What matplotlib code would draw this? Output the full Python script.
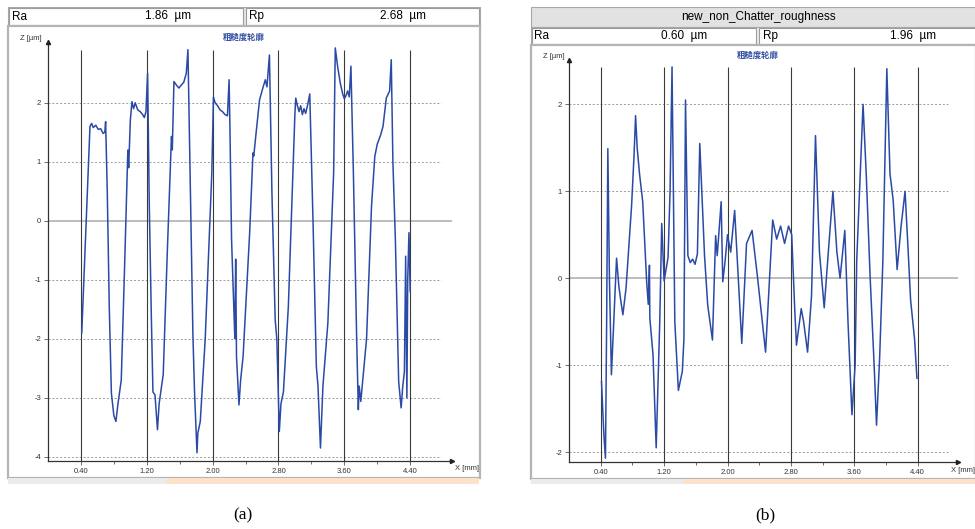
import matplotlib
matplotlib.use("Agg")
import matplotlib.pyplot as plt
from matplotlib.patches import Rectangle

# ---------------- data ----------------
xa = [0.41, 0.45, 0.49, 0.51, 0.53, 0.55, 0.58, 0.61, 0.64, 0.67, 0.69, 0.70, 0.72, 0.745, 0.77, 0.80, 0.825,
      0.85, 0.89, 0.93, 0.97, 0.98, 1.00, 1.02, 1.04, 1.06, 1.09, 1.12, 1.15, 1.17, 1.19, 1.21, 1.23, 1.255,
      1.275, 1.30, 1.33, 1.35, 1.40, 1.45, 1.50, 1.51, 1.53, 1.56, 1.59, 1.62, 1.65, 1.68, 1.70, 1.73, 1.76,
      1.78, 1.81, 1.82, 1.85, 1.91, 1.99, 2.01, 2.03, 2.06, 2.09, 2.12, 2.15, 2.18, 2.20, 2.21, 2.23, 2.27,
      2.28, 2.29, 2.32, 2.34, 2.37, 2.45, 2.49, 2.50, 2.52, 2.57, 2.61, 2.64, 2.66, 2.69, 2.72, 2.76, 2.78,
      2.81, 2.83, 2.86, 2.92, 3.00, 3.01, 3.03, 3.05, 3.07, 3.09, 3.11, 3.13, 3.16, 3.18, 3.22, 3.26, 3.28,
      3.31, 3.34, 3.40, 3.47, 3.49, 3.52, 3.55, 3.58, 3.60, 3.62, 3.64, 3.66, 3.68, 3.71, 3.75, 3.77, 3.78,
      3.80, 3.87, 3.93, 3.97, 4.00, 4.04, 4.07, 4.11, 4.15, 4.17, 4.19, 4.22, 4.26, 4.29, 4.31, 4.33, 4.345,
      4.36, 4.37, 4.385, 4.40]
za = [-1.90, -0.5, 0.9, 1.60, 1.65, 1.58, 1.62, 1.55, 1.56, 1.48, 1.50, 1.68, 0.5, -1.5, -2.92, -3.30, -3.40,
      -3.1, -2.7, -0.8, 1.20, 0.9, 1.7, 2.02, 1.90, 2.0, 1.88, 1.85, 1.80, 1.75, 1.85, 2.50, 0.3, -1.6,
      -2.9, -2.95, -3.54, -3.1, -2.6, -0.5, 1.43, 1.2, 2.36, 2.30, 2.25, 2.30, 2.35, 2.50, 2.90, 0.5, -1.9,
      -2.9, -3.93, -3.6, -3.4, -2.0, 0.81, 2.10, 2.0, 1.95, 1.88, 1.85, 1.80, 1.78, 2.39, 1.6, -0.32, -2.0,
      -0.65, -2.3, -3.12, -2.7, -2.3, -0.2, 1.15, 1.1, 1.38, 2.05, 2.25, 2.39, 2.27, 2.81, 0.5, -1.68, -2.0,
      -3.57, -3.1, -2.9, -1.45, 1.83, 2.08, 1.95, 1.85, 1.95, 1.80, 1.90, 1.82, 2.0, 2.15, -0.03, -2.47, -2.8,
      -3.85, -2.8, -1.73, 0.81, 2.93, 2.6, 2.34, 2.15, 2.07, 2.12, 2.2, 2.1, 2.62, 0.81, -2.0, -3.2, -2.8,
      -3.06, -2.0, 0.24, 1.09, 1.30, 1.45, 1.6, 2.08, 2.2, 2.73, 1.0, -0.32, -2.72, -3.17, -2.8, -2.55, -0.6,
      -3.0, -1.0, -0.2, -1.2]

xb = [0.41, 0.44, 0.46, 0.475, 0.49, 0.51, 0.535, 0.56, 0.60, 0.63, 0.66, 0.68, 0.72, 0.79, 0.82, 0.84, 0.86,
      0.89, 0.93, 0.98, 1.00, 1.015, 1.02, 1.06, 1.10, 1.145, 1.17, 1.20, 1.25, 1.275, 1.30, 1.335, 1.38,
      1.43, 1.45, 1.47, 1.50, 1.53, 1.56, 1.59, 1.62, 1.65, 1.71, 1.75, 1.81, 1.85, 1.87, 1.92, 1.94, 1.97,
      2.00, 2.04, 2.09, 2.13, 2.18, 2.24, 2.31, 2.38, 2.48, 2.57, 2.62, 2.67, 2.72, 2.77, 2.81, 2.85, 2.87,
      2.93, 2.96, 3.01, 3.06, 3.11, 3.16, 3.22, 3.28, 3.33, 3.38, 3.42, 3.48, 3.52, 3.57, 3.61, 3.63, 3.67,
      3.71, 3.75, 3.80, 3.85, 3.88, 3.92, 3.96, 4.01, 4.05, 4.09, 4.14, 4.19, 4.24, 4.28, 4.31, 4.36, 4.39]
zb = [-1.19, -1.8, -2.07, -0.5, 1.49, 0.0, -1.11, -0.6, 0.23, -0.1, -0.3, -0.42, -0.11, 0.84, 1.4, 1.87, 1.5,
      1.2, 0.88, -0.04, -0.3, 0.15, -0.46, -0.88, -1.95, -0.5, 0.63, -0.03, 0.24, 1.0, 2.43, -0.5, -1.29,
      -1.07, -0.7, 2.05, 0.26, 0.18, 0.22, 0.16, 0.28, 1.55, 0.26, -0.31, -0.71, 0.49, 0.26, 0.88, -0.04, 0.2,
      0.5, 0.3, 0.78, 0.1, -0.75, 0.4, 0.55, 0.0, -0.85, 0.67, 0.45, 0.6, 0.4, 0.6, 0.5, -0.4, -0.77,
      -0.35, -0.5, -0.85, -0.2, 1.64, 0.3, -0.34, 0.4, 1.0, 0.3, 0.0, 0.55, -0.5, -1.57, -1.0, 0.2, 1.1,
      2.0, 1.2, 0.0, -1.0, -1.69, -0.9, 0.2, 2.41, 1.2, 0.9, 0.1, 0.6, 1.0, 0.3, -0.25, -0.7, -1.15]

xticks = [0.40, 1.20, 2.00, 2.80, 3.60, 4.40]
xticklabels = ["0.40", "1.20", "2.00", "2.80", "3.60", "4.40"]
xminor = [0.80, 1.60, 2.40, 3.20, 4.00]
yticks_a = [2, 1, 0, -1, -2, -3, -4]
yticks_b = [2, 1, 0, -1, -2]
ra_a, rp_a = "1.86", "2.68"
ra_b, rp_b = "0.60", "1.96"
title_b = "new_non_Chatter_roughness"
profile_title = "粗糙度轮廓"

# ---------------- figure ----------------
W, H = 975, 529
fig = plt.figure(figsize=(W / 100, H / 100), dpi=100)
fig.patch.set_facecolor("white")
SANS = ["Liberation Sans", "DejaVu Sans"]


def R(x0, y0, x1, y1, fc="white", ec="none", lw=0.8):
    fig.patches.append(Rectangle((x0 / W, 1 - y1 / H), (x1 - x0) / W, (y1 - y0) / H,
                                 transform=fig.transFigure, facecolor=fc, edgecolor=ec,
                                 linewidth=lw, zorder=-10))


def T(x, y, s, **kw):
    kw.setdefault("family", SANS)
    kw.setdefault("va", "center")
    fig.text(x / W, 1 - y / H, s, **kw)


# panel (a) frame
R(8, 7, 480, 26, fc="#e6e6e6", ec="#a8a8a8")
R(9, 8, 243, 25, fc="white", ec="#9c9c9c")
R(246, 8, 479, 25, fc="white", ec="#9c9c9c")
R(8, 26, 480, 478, fc="white", ec="#b4b4b4", lw=1.6)
R(8, 478, 166, 484, fc="#ebebeb")
R(166, 478, 479, 484, fc="#fbe2c9")
T(12, 16.5, "Ra", fontsize=8.5)
T(145, 16.5, ra_a + "  µm", fontsize=8.5)
T(249, 16.5, "Rp", fontsize=8.5)
T(380, 16.5, rp_a + "  µm", fontsize=8.5)

# panel (b) frame
R(531, 7, 976, 27, fc="#e2e2e2", ec="#a8a8a8")
R(531, 27, 976, 45, fc="#ececec", ec="#a8a8a8")
R(532, 28, 756, 44, fc="white", ec="#9c9c9c")
R(759, 28, 976, 44, fc="white", ec="#9c9c9c")
R(531, 45, 976, 479, fc="white", ec="#b4b4b4", lw=1.6)
R(531, 479, 683, 484, fc="#ebebeb")
R(683, 479, 975, 484, fc="#fbe2c9")
T(758, 17, title_b, fontsize=8.5, ha="center")
T(534, 36, "Ra", fontsize=8.5)
T(661, 36, ra_b + "  µm", fontsize=8.5)
T(763, 36, "Rp", fontsize=8.5)
T(890, 36, rp_b + "  µm", fontsize=8.5)

# captions
T(243, 515, "(a)", fontsize=12.5, ha="center", family=["Liberation Serif", "DejaVu Serif"])
T(765, 515, "(b)", fontsize=12.5, ha="center", family=["Liberation Serif", "DejaVu Serif"])


def make_axes(px0, px1, py_top, py_bot, xlim, ylim, x, z, yticks, vtop, title_xy, zlab_xy, xlab_xy):
    ax = fig.add_axes([px0 / W, 1 - py_bot / H, (px1 - px0) / W, (py_bot - py_top) / H])
    ax.set_facecolor("none")
    ax.set_xlim(*xlim)
    ax.set_ylim(*ylim)
    for s in ("top", "right"):
        ax.spines[s].set_visible(False)
    for s in ("left", "bottom"):
        ax.spines[s].set_color("#333333")
        ax.spines[s].set_linewidth(0.9)
    gx = 4.78
    for yv in yticks:
        if yv == 0:
            ax.plot([0, xlim[1]], [0, 0], color="#b8b8b8", lw=1.3, zorder=1)
        else:
            ax.plot([0, gx], [yv, yv], color="#9a9a9a", lw=0.7, ls=(0, (2, 2)), zorder=1)
    ax.vlines(xticks, ylim[0], vtop, color="#3a3a3a", lw=0.8, zorder=2)
    ax.plot(x, z, color="#2a4aa6", lw=1.1, zorder=3)
    ax.set_xticks(xticks)
    ax.set_xticklabels(xticklabels)
    ax.set_xticks(xminor, minor=True)
    ax.set_yticks(yticks)
    ax.set_yticklabels([str(v) for v in yticks])
    ax.tick_params(axis="both", which="major", length=3, width=0.6, color="#555555",
                   labelsize=5.5, labelcolor="#333333", pad=2)
    ax.tick_params(axis="x", which="minor", length=2.5, width=0.6, color="#555555")
    for lab in ax.get_xticklabels() + ax.get_yticklabels():
        lab.set_family(SANS)
    ax.plot([0], [ylim[1]], marker="^", ms=3, color="#222222", clip_on=False, zorder=5)
    ax.plot([xlim[1]], [ylim[0]], marker=">", ms=3, color="#222222", clip_on=False, zorder=5)
    T(*title_xy, profile_title, fontsize=6, ha="center", color="#2c4aa0",
      family=["Noto Sans CJK SC", "DejaVu Sans"], weight="bold")
    T(*zlab_xy, "Z [µm]", fontsize=5.5, ha="left", color="#333333")
    T(*xlab_xy, "X [mm]", fontsize=5.5, ha="left", color="#333333")
    return ax


make_axes(48, 452, 42, 461, (0, 4.908), (-4.07, 3.03), xa, za, yticks_a, 2.90,
          (244, 37), (20, 38), (455, 468))
make_axes(569, 958, 60, 461.7, (0, 4.908), (-2.11, 2.51), xb, zb, yticks_b, 2.43,
          (758, 55), (543, 56), (951, 470))

fig.savefig("out.png", dpi=100, facecolor="white")
